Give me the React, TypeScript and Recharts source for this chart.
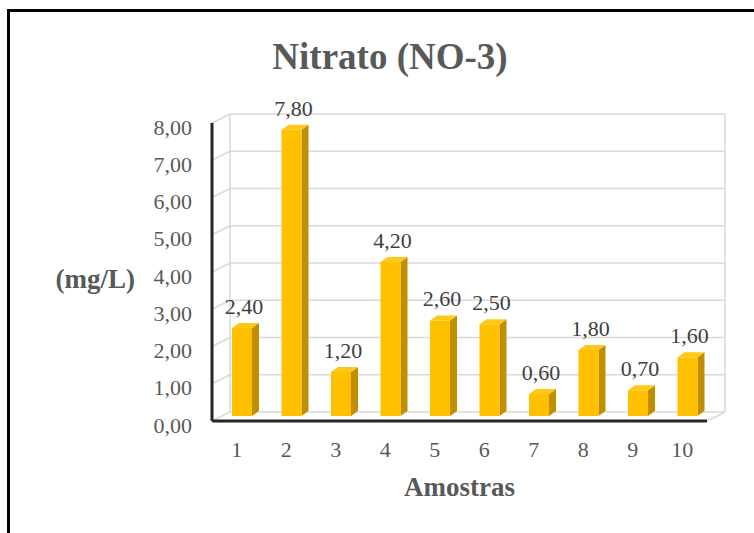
import React from 'react'
import { BarChart, Bar, XAxis, YAxis, CartesianGrid, LabelList } from 'recharts'

const samples = ['1', '2', '3', '4', '5', '6', '7', '8', '9', '10']
const nitrate = [2.4, 7.8, 1.2, 4.2, 2.6, 2.5, 0.6, 1.8, 0.7, 1.6]
const yTicks = [0, 1, 2, 3, 4, 5, 6, 7, 8]

const rows = samples.map((s, i) => ({ sample: s, value: nitrate[i] }))

const SERIF = "'Liberation Serif', 'Times New Roman', serif"
const TEXT = '#595959'
const GRID = '#d9d9d9'
// depth of the 3d walls
const DX = 18
const DY = -9
// bar shift to mid depth + perspective shrink
const BSX = 5
const BSY = -5
const SHRINK = 0.985
const SIDE_W = 7
const SIDE_H = -5

const fmt = (v: number) => v.toFixed(2).replace('.', ',')

const barGeom = (x: number, y: number, width: number, height: number) => {
    const bottom = y + height + BSY
    const h = height * SHRINK
    return { left: x + BSX, top: bottom - h, bottom, w: width, h }
}

const Bar3D = (props: any) => {
    const { x, y, width, height } = props
    const g = barGeom(x, y, width, height)
    const r = g.left + g.w
    return (
        <g>
            <polygon
                points={`${r},${g.top} ${r + SIDE_W},${g.top + SIDE_H} ${r + SIDE_W},${g.bottom + SIDE_H} ${r},${g.bottom}`}
                fill="#bf8f00"
            />
            <polygon
                points={`${g.left},${g.top} ${r},${g.top} ${r + SIDE_W},${g.top + SIDE_H} ${g.left + SIDE_W},${g.top + SIDE_H}`}
                fill="#ffc819"
            />
            <rect x={g.left} y={g.top} width={g.w} height={g.h} fill="#ffc000" />
        </g>
    )
}

const renderWall = (p: any) => {
    const { x1, y1, x2, index, y, height } = p
    return (
        <g key={`wall-${index}`}>
            <line x1={x1} y1={y1} x2={x1 + DX} y2={y1 + DY} stroke={GRID} strokeWidth={1.5} />
            <line x1={x1 + DX} y1={y1 + DY} x2={x2 + DX} y2={y1 + DY} stroke={GRID} strokeWidth={1.5} />
            {index === 0 && (
                <>
                    <line x1={x1 + DX} y1={y + DY} x2={x1 + DX} y2={y + height + DY} stroke={GRID} strokeWidth={1.5} />
                    <line x1={x2 + DX} y1={y + DY} x2={x2 + DX} y2={y + height + DY} stroke={GRID} strokeWidth={1.5} />
                    <line x1={x2} y1={y + height} x2={x2 + DX} y2={y + height + DY} stroke={GRID} strokeWidth={1.5} />
                </>
            )}
        </g>
    )
}

const YTick = (props: any) => {
    const { x, y, payload } = props
    return (
        <text x={x} y={y + 4} dy="0.35em" textAnchor="end" fill={TEXT} fontSize={22} fontFamily={SERIF}>
            {fmt(payload.value)}
        </text>
    )
}

const XTick = (props: any) => {
    const { x, y, payload } = props
    return (
        <text x={x} y={y} dy="0.35em" textAnchor="middle" fill={TEXT} fontSize={22} fontFamily={SERIF}>
            {payload.value}
        </text>
    )
}

const ValueLabel = (props: any) => {
    const { x, y, width, height, value } = props
    const g = barGeom(x, y, width, height)
    return (
        <text x={g.left + g.w / 2 + 2} y={g.top - 22} dy="0.35em" textAnchor="middle" fill="#404040" fontSize={22} fontFamily={SERIF}>
            {fmt(value)}
        </text>
    )
}

export default function App() {
    return (
        <div style={{ position: 'fixed', left: 0, top: 0, width: 754, height: 533, background: '#fff', overflow: 'hidden' }}>
            <div
                style={{
                    position: 'absolute', left: 7, top: 9, width: 800, height: 600,
                    border: '3px solid #000', boxSizing: 'border-box',
                }}
            />
            <div
                style={{
                    position: 'absolute', left: 0, top: 38, width: 780, textAlign: 'center',
                    fontFamily: SERIF, fontWeight: 'bold', fontSize: 37, lineHeight: '37px', color: TEXT,
                }}
            >
                Nitrato (NO-3)
            </div>
            <div style={{ position: 'absolute', left: 0, top: 0 }}>
                <BarChart
                    width={754}
                    height={533}
                    data={rows}
                    margin={{ top: 123, right: 47, left: 152, bottom: 72 }}
                    barSize={20}
                >
                    <CartesianGrid horizontal={renderWall} vertical={false} />
                    <XAxis
                        dataKey="sample"
                        height={40}
                        tickLine={false}
                        tickSize={0}
                        tickMargin={28}
                        tick={<XTick />}
                        axisLine={{ stroke: '#262626', strokeWidth: 3 }}
                        label={{
                            content: (p: any) => {
                                const vb = p.viewBox
                                return (
                                    <text x={vb.x + vb.width / 2} y={vb.y + 75} textAnchor="middle" fill={TEXT} fontSize={27} fontWeight="bold" fontFamily={SERIF}>
                                        Amostras
                                    </text>
                                )
                            },
                        }}
                    />
                    <YAxis
                        domain={[0, 8]}
                        ticks={yTicks}
                        width={60}
                        tickLine={false}
                        tickSize={0}
                        tickMargin={20}
                        tick={<YTick />}
                        axisLine={{ stroke: '#262626', strokeWidth: 3 }}
                        label={{
                            content: (p: any) => {
                                const vb = p.viewBox
                                return (
                                    <text x={vb.x - 17} y={vb.y + vb.height / 2 + 7} dy="0.35em" textAnchor="end" fill={TEXT} fontSize={27} fontWeight="bold" fontFamily={SERIF}>
                                        (mg/L)
                                    </text>
                                )
                            },
                        }}
                    />
                    <Bar dataKey="value" shape={Bar3D} isAnimationActive={false}>
                        <LabelList dataKey="value" content={ValueLabel} />
                    </Bar>
                </BarChart>
            </div>
        </div>
    )
}
